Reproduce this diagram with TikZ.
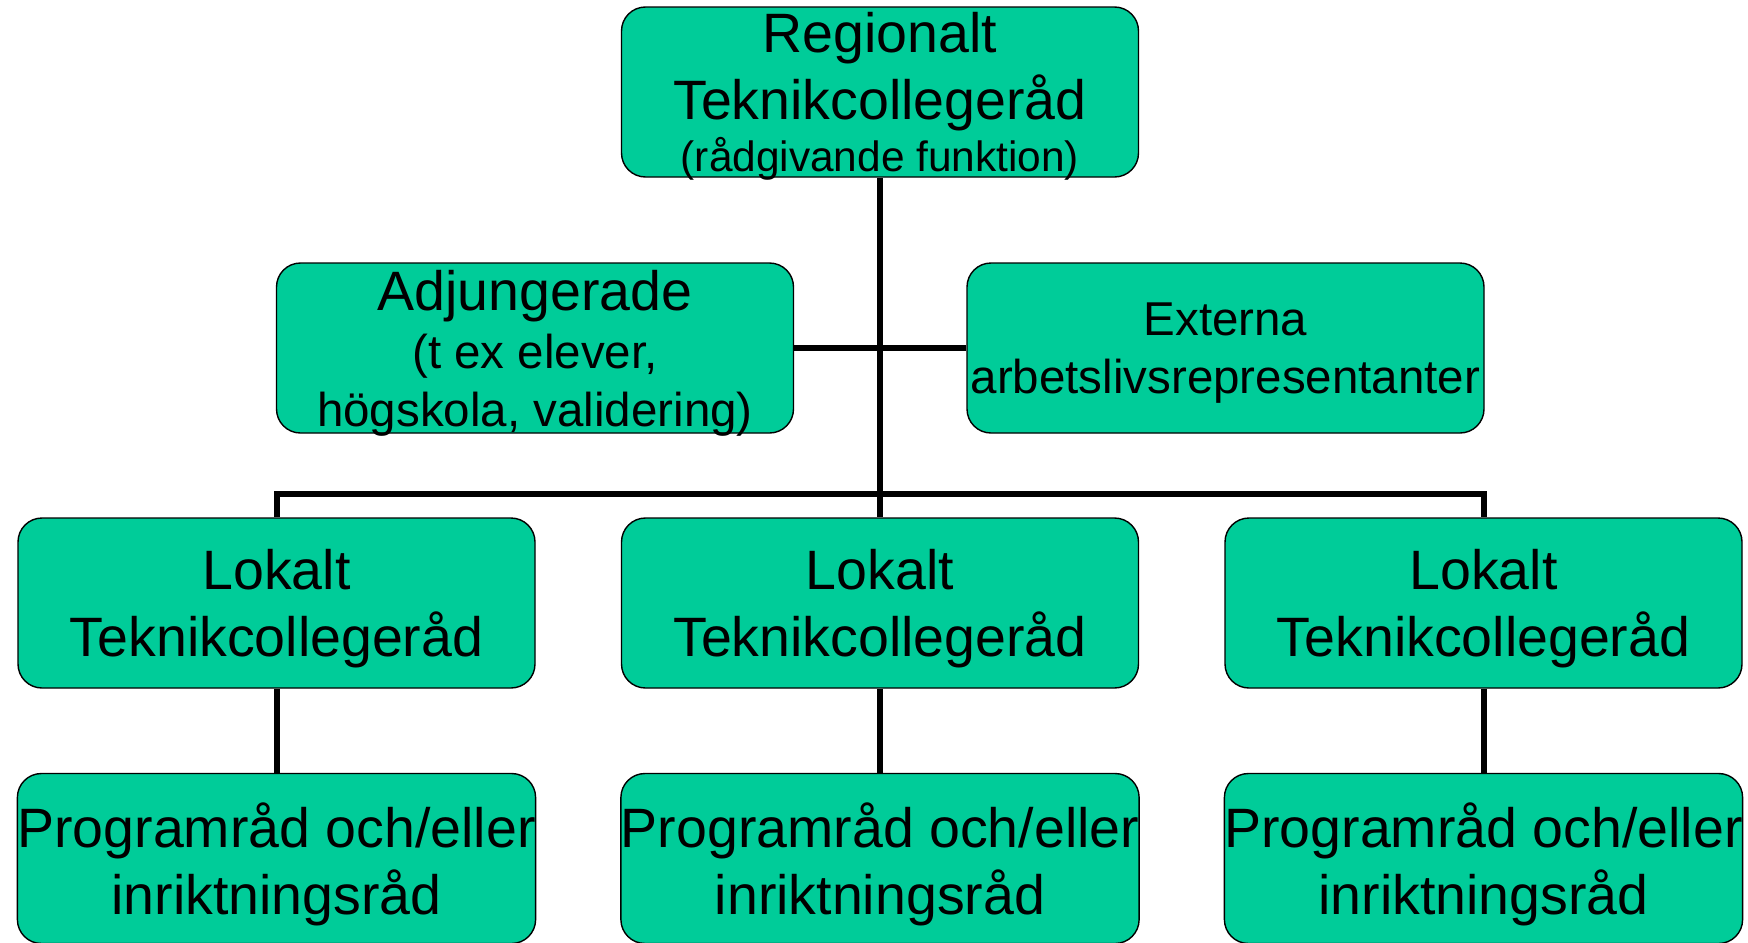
\documentclass[tikz,border=0pt]{standalone}
\usepackage{fontspec}
\setmainfont{Liberation Sans}
\usepackage{tikz}
\definecolor{boxgreen}{HTML}{00CC99}

\begin{document}
\begin{tikzpicture}[x=0.5pt, y=-0.5pt,
	box/.style = {draw, line width=0.7pt, fill=boxgreen, rounded corners=12pt, minimum width=258.5pt, minimum height=85pt, inner sep=0pt, text depth=-0.6pt, align=center, font=\fontsize{27.75}{33.5}\selectfont},
	small/.style = {font=\fontsize{23.75}{29}\selectfont},
	link/.style = {line width=3pt}]
	\useasboundingbox (0,0) rectangle (1748,942);
	\node[box] (reg) at (880,92) {Regionalt\\Teknikcollegeråd\\[-7.5pt]{\fontsize{21.2}{26}\selectfont (rådgivande funktion)}};
	\node[box, small] (adj) at (535,348) {{\fontsize{27.75}{29}\selectfont Adjungerade}\\(t ex elever,\\högskola, validering)};
	\node[box, small] (ext) at (1225.5,348) {Externa\\arbetslivsrepresentanter};
	% lokala
	\node[box] (lok1) at (276.5,603) {Lokalt\\Teknikcollegeråd};
	\node[box] (lok2) at (880,603) {Lokalt\\Teknikcollegeråd};
	\node[box] (lok3) at (1483.5,603) {Lokalt\\Teknikcollegeråd};
	\node[box] (prog1) at (276.5,858.5) {Programråd och/eller\\inriktningsråd};
	\node[box] (prog2) at (880,858.5) {Programråd och/eller\\inriktningsråd};
	\node[box] (prog3) at (1483.5,858.5) {Programråd och/eller\\inriktningsråd};
	\draw[link] (reg.south) -- (lok2.north);
	\draw[link] (adj.east) -- (ext.west);
	\coordinate (bar) at (880,494);
	\draw[link] (lok1.north) |- (bar) -| (lok3.north);
	\draw[link] (lok1.south) -- (prog1.north);
	\draw[link] (lok2.south) -- (prog2.north);
	\draw[link] (lok3.south) -- (prog3.north);
\end{tikzpicture}
\end{document}
